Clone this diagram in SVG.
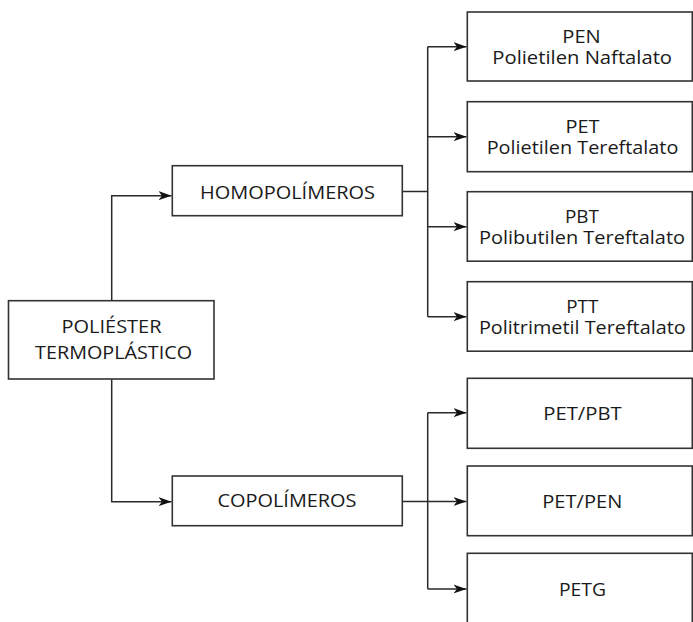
<svg xmlns="http://www.w3.org/2000/svg" width="693" height="622" viewBox="0 0 693 622">
<style>
.box{fill:#fff;stroke:#333;stroke-width:1.6}
.ln{fill:none;stroke:#2a2a2a;stroke-width:1.5}
text{font-family:"Open Sans","Liberation Sans",sans-serif;fill:#1a1a1a;text-anchor:middle}
.l{font-size:19px}
.r{font-size:17.5px}
</style>
<defs>
<marker id="ah" markerUnits="userSpaceOnUse" markerWidth="14" markerHeight="10" refX="13" refY="5" orient="auto">
<path d="M0,0.5 L13,5 L0,9.5 L3.5,5 Z" fill="#111"/>
</marker>
</defs>
<g id="connectors">
<path class="ln" d="M111.7,300.7 V195.7 H171.5" marker-end="url(#ah)"/>
<path class="ln" d="M111.7,379 V501.7 H171.5" marker-end="url(#ah)"/>
<path class="ln" d="M402.3,191.5 H427.7"/>
<path class="ln" d="M427.7,46.7 V316.7"/>
<path class="ln" d="M427.7,46.7 H466.5" marker-end="url(#ah)"/>
<path class="ln" d="M427.7,136.7 H466.5" marker-end="url(#ah)"/>
<path class="ln" d="M427.7,226.7 H466.5" marker-end="url(#ah)"/>
<path class="ln" d="M427.7,316.7 H466.5" marker-end="url(#ah)"/>
<path class="ln" d="M402.3,501.5 H466.5" marker-end="url(#ah)"/>
<path class="ln" d="M427.7,412.7 V589"/>
<path class="ln" d="M427.7,412.7 H466.5" marker-end="url(#ah)"/>
<path class="ln" d="M427.7,589 H466.5" marker-end="url(#ah)"/>
</g>
<g id="poliester">
<rect class="box" x="8.5" y="300.7" width="205.5" height="78.3"/>
<text class="l" x="111.5" y="332.7" textLength="100" lengthAdjust="spacingAndGlyphs">POLIÉSTER</text>
<text class="l" x="113.6" y="359" textLength="157" lengthAdjust="spacingAndGlyphs">TERMOPLÁSTICO</text>
</g>
<g id="homopolimeros">
<rect class="box" x="172.3" y="165.7" width="230" height="50"/>
<text class="l" x="287.5" y="199" textLength="175" lengthAdjust="spacingAndGlyphs">HOMOPOLÍMEROS</text>
</g>
<g id="copolimeros">
<rect class="box" x="172.3" y="476" width="230" height="49.7"/>
<text class="l" x="287" y="506.7" textLength="139" lengthAdjust="spacingAndGlyphs">COPOLÍMEROS</text>
</g>
<g id="pen">
<rect class="box" x="467.3" y="12" width="225" height="69"/>
<text class="r" x="581.5" y="43.3" textLength="38.4" lengthAdjust="spacingAndGlyphs">PEN</text>
<text class="r" x="582.2" y="64.3" textLength="179.7" lengthAdjust="spacingAndGlyphs">Polietilen Naftalato</text>
</g>
<g id="pet">
<rect class="box" x="467.3" y="101.7" width="225" height="70"/>
<text class="r" x="582.5" y="133.3" textLength="34" lengthAdjust="spacingAndGlyphs">PET</text>
<text class="r" x="582.5" y="154" textLength="191.7" lengthAdjust="spacingAndGlyphs">Polietilen Tereftalato</text>
</g>
<g id="pbt">
<rect class="box" x="467.3" y="191.7" width="225" height="69.5"/>
<text class="r" x="582" y="223.3" textLength="34" lengthAdjust="spacingAndGlyphs">PBT</text>
<text class="r" x="582" y="244" textLength="206" lengthAdjust="spacingAndGlyphs">Polibutilen Tereftalato</text>
</g>
<g id="ptt">
<rect class="box" x="467.3" y="281.7" width="225" height="69.5"/>
<text class="r" x="582.3" y="313.3" textLength="32" lengthAdjust="spacingAndGlyphs">PTT</text>
<text class="r" x="582.3" y="334.3" textLength="206.7" lengthAdjust="spacingAndGlyphs">Politrimetil Tereftalato</text>
</g>
<g id="pet-pbt">
<rect class="box" x="467.3" y="378.3" width="225" height="70"/>
<text class="r" x="582.5" y="420" textLength="78.3" lengthAdjust="spacingAndGlyphs">PET/PBT</text>
</g>
<g id="pet-pen">
<rect class="box" x="467.3" y="466" width="225" height="69.7"/>
<text class="r" x="582.3" y="507.7" textLength="80" lengthAdjust="spacingAndGlyphs">PET/PEN</text>
</g>
<g id="petg">
<rect class="box" x="467.3" y="553.3" width="225" height="70"/>
<text class="r" x="582.5" y="596" textLength="47" lengthAdjust="spacingAndGlyphs">PETG</text>
</g>
</svg>
